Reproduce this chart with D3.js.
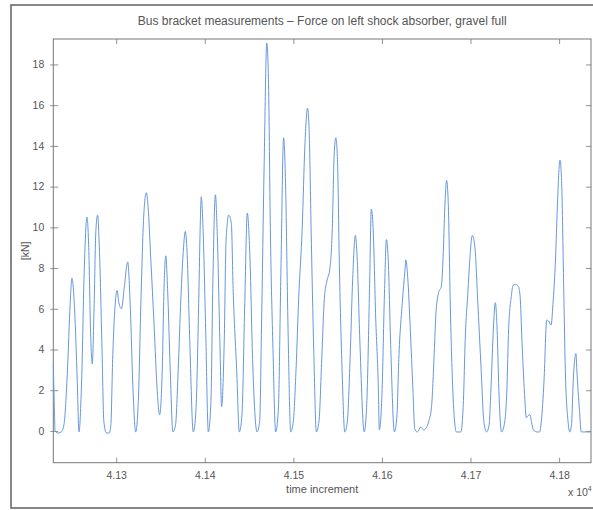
<!DOCTYPE html>
<html>
<head>
<meta charset="utf-8">
<script src="https://cdn.jsdelivr.net/npm/d3@7/dist/d3.min.js"></script>
<style>
    html, body { margin: 0; padding: 0; background: #fff; }
    text { font-family: "Liberation Sans", Arial, sans-serif; fill: #555; }
</style>
</head>
<body>
<div id="chart"></div>
<script>
// samples: time increment and force in kN
const timeSteps = [
    41229, 41230, 41231, 41234, 41238, 41241, 41245, 41248, 41250, 41253,
    41256, 41258, 41261, 41264, 41267, 41269, 41271, 41273, 41275, 41277,
    41279, 41281, 41284, 41286, 41289, 41292, 41294, 41296, 41299, 41301,
    41303, 41306, 41309, 41313, 41316, 41319, 41322, 41325, 41328, 41331,
    41334, 41336, 41339, 41343, 41346, 41349, 41352, 41354, 41356, 41358,
    41361, 41364, 41367, 41370, 41373, 41376, 41378, 41380, 41383, 41387,
    41390, 41393, 41395, 41396, 41398, 41401, 41404, 41407, 41409, 41412,
    41414, 41417, 41419, 41422, 41424, 41427, 41430, 41432, 41436, 41439,
    41442, 41445, 41448, 41451, 41454, 41459, 41462, 41464, 41467, 41470,
    41472, 41474, 41477, 41480, 41483, 41486, 41489, 41491, 41494, 41497,
    41500, 41503, 41506, 41510, 41513, 41516, 41518, 41520, 41523, 41526,
    41529, 41532, 41535, 41538, 41541, 41544, 41546, 41548, 41550, 41552,
    41555, 41558, 41561, 41564, 41567, 41570, 41572, 41575, 41580, 41583,
    41586, 41588, 41590, 41593, 41596, 41597, 41600, 41603, 41605, 41607,
    41610, 41614, 41617, 41619, 41623, 41626, 41627, 41629, 41632, 41635,
    41637, 41640, 41644, 41647, 41650, 41653, 41656, 41659, 41661, 41664,
    41667, 41669, 41671, 41673, 41675, 41677, 41680, 41684, 41689, 41692,
    41694, 41697, 41699, 41702, 41705, 41708, 41712, 41715, 41718, 41721,
    41723, 41726, 41728, 41730, 41732, 41735, 41738, 41741, 41743, 41746,
    41748, 41751, 41754, 41756, 41758, 41761, 41763, 41765, 41767, 41769,
    41771, 41775, 41778, 41780, 41783, 41786, 41788, 41791, 41793, 41796,
    41798, 41801, 41803, 41805, 41807, 41810, 41812, 41814, 41816, 41819,
    41820, 41823, 41825, 41836
];
const forceKN = [
    3.3, 1.5, 0.0, -0.1, -0.05, 0.3, 3, 6.2, 7.5, 6,
    2.5, -0.05, 2.5, 8, 10.5, 9, 5, 3.3, 6, 9.8,
    10.6, 9, 4, 0.5, -0.1, -0.1, 0.3, 3.5, 6.3, 6.9,
    6.3, 6.0, 7.0, 8.3, 6, 2, -0.05, 1.5, 6.5, 10.5,
    11.7, 11, 8.5, 5, 2.2, 0.8, 3, 7, 8.6, 7,
    3, -0.05, 0.3, 3, 6.5, 9, 9.8, 8.8, 4.5, -0.05,
    1, 6, 10.3, 11.5, 10, 5, -0.05, 1.5, 7, 11.6,
    9.8, 4.5, 1.2, 4.5, 9.3, 10.6, 10.2, 7, 3, -0.05,
    0.8, 6, 10.7, 8.5, 3.5, -0.05, 0.5, 5, 13, 19.05,
    17, 10, 4, -0.05, 1, 8, 14.4, 12.5, 5, -0.05,
    0.5, 3, 6.5, 10, 14, 15.85, 14.5, 10, 4, -0.05,
    0.5, 3.5, 6.5, 7.4, 7.9, 10, 13.5, 14.4, 13, 8,
    3, -0.05, 0.5, 3.5, 7.5, 9.6, 8.5, 4.5, -0.05, 1.5,
    7, 10.9, 10, 5.5, 2, 0.05, 1.8, 7, 9.4, 8.5,
    4, -0.05, 0.8, 3.5, 6.3, 7.9, 8.4, 7.6, 5, 2,
    0.1, -0.05, 0.2, 0.05, 0.15, 0.5, 1.2, 3.8, 5.8, 6.8,
    7.1, 8.5, 11, 12.3, 11, 6.5, 2, -0.05, -0.05, 1.5,
    4.5, 6.8, 8.3, 9.6, 9, 6.5, 3, 0.5, -0.05, 0.3,
    2, 5.2, 6.3, 5, 2, -0.05, 0.3, 2, 5, 6.6,
    7.15, 7.2, 7.1, 6.6, 4.5, 1.8, 0.65, 0.75, 0.8, 0.4,
    0.05, -0.05, -0.05, 0.5, 2.5, 5.45, 5.4, 5.2, 6.2, 8.5,
    11, 13.3, 12, 7.5, 3, 0.5, -0.05, 0.3, 2.5, 3.8,
    3, 1, -0.05, -0.05
];
const xTicks = [41300, 41400, 41500, 41600, 41700, 41800];
const yTicks = [0, 2, 4, 6, 8, 10, 12, 14, 16, 18];
const xDomain = [41229, 41836];
const yDomain = [-1.56, 19.25];

const box = { left: 53.3, right: 591, top: 39, bottom: 462.7 };
const axisGrey = "#777";

const svg = d3.select("#chart").append("svg")
              .attr("width", 593)
              .attr("height", 510);

// figure frame of the scanned page
svg.append("rect")
   .attr("x", 11)
   .attr("y", 5)
   .attr("width", 600)
   .attr("height", 503)
   .attr("fill", "none")
   .attr("stroke", "#6a6a6a")
   .attr("stroke-width", 1.6);

const xScale = d3.scaleLinear().domain(xDomain).range([box.left, box.right]);
const yScale = d3.scaleLinear().domain(yDomain).range([box.bottom, box.top]);

const styleAxis = g => {
    g.select(".domain").remove();
    g.selectAll(".tick line").attr("stroke", axisGrey).attr("stroke-width", 0.8);
    g.selectAll(".tick text").style("font-size", "10.5px").attr("fill", "#555");
};

svg.append("g")
   .attr("transform", `translate(0, ${box.bottom})`)
   .call(d3.axisBottom(xScale)
           .tickValues(xTicks)
           .tickSize(-5)
           .tickPadding(9)
           .tickFormat(d => (d / 1e4).toFixed(2)))
   .call(styleAxis);

svg.append("g")
   .attr("transform", `translate(0, ${box.top})`)
   .call(d3.axisTop(xScale).tickValues(xTicks).tickSize(-5).tickFormat(""))
   .call(styleAxis);

svg.append("g")
   .attr("transform", `translate(${box.left}, 0)`)
   .call(d3.axisLeft(yScale)
           .tickValues(yTicks)
           .tickSize(-5)
           .tickPadding(9)
           .tickFormat(d3.format("d")))
   .call(styleAxis)
   .selectAll(".tick line")
   .attr("x1", -3);

svg.append("g")
   .attr("transform", `translate(${box.right}, 0)`)
   .call(d3.axisRight(yScale).tickValues(yTicks).tickSize(-5).tickFormat(""))
   .call(styleAxis);

svg.append("rect")
   .attr("x", box.left)
   .attr("y", box.top)
   .attr("width", box.right - box.left)
   .attr("height", box.bottom - box.top)
   .attr("fill", "none")
   .attr("stroke", axisGrey)
   .attr("stroke-width", 1);

const line = d3.line()
               .x((d, i) => xScale(timeSteps[i]))
               .y(d => yScale(d))
               .curve(d3.curveMonotoneX);

svg.append("path")
   .datum(forceKN)
   .attr("d", line)
   .attr("fill", "none")
   .attr("stroke", "#6598dc")
   .attr("stroke-width", 1);

svg.append("text")
   .attr("x", (box.left + box.right) / 2)
   .attr("y", 25)
   .attr("text-anchor", "middle")
   .style("font-size", "12px")
   .attr("fill", "#444")
   .text("Bus bracket measurements \u2013 Force on left shock absorber, gravel full");

svg.append("text")
   .attr("x", (box.left + box.right) / 2)
   .attr("y", 493)
   .attr("text-anchor", "middle")
   .style("font-size", "11px")
   .text("time increment");

svg.append("text")
   .attr("transform", `translate(29, ${(box.top + box.bottom) / 2}) rotate(-90)`)
   .attr("text-anchor", "middle")
   .style("font-size", "10.5px")
   .text("[kN]");

const expo = svg.append("text")
                .attr("x", 568)
                .attr("y", 496)
                .style("font-size", "10.5px");
expo.append("tspan").text("x 10");
expo.append("tspan").attr("dy", -5).style("font-size", "7px").text("4");
</script>
</body>
</html>
